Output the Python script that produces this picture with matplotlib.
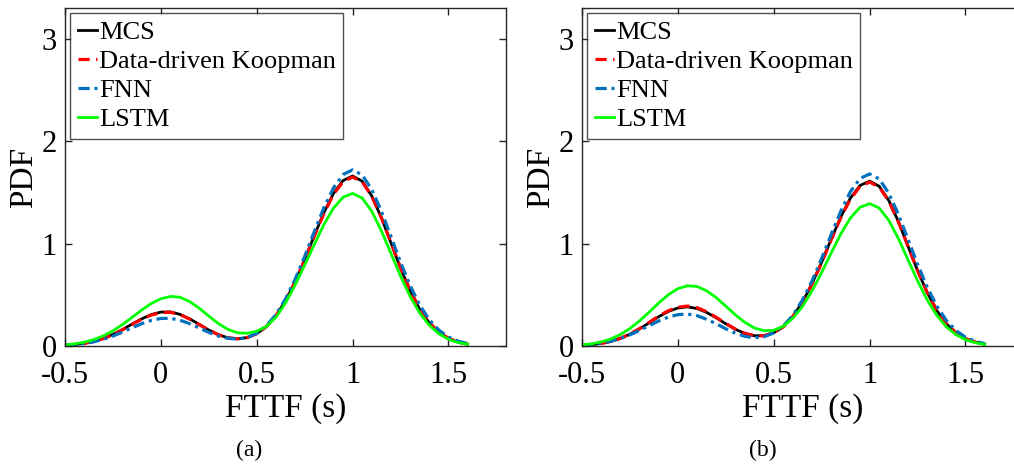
import matplotlib
matplotlib.use("Agg")
import matplotlib.pyplot as plt

plt.rcParams['font.family'] = ['Liberation Serif', 'DejaVu Serif']

# FTTF grid (s), read every 0.05 s from the reference
fttf = [-0.5, -0.45, -0.4, -0.35, -0.3, -0.25, -0.2, -0.15, -0.1, -0.05,
        0.0, 0.05, 0.1, 0.15, 0.2, 0.25, 0.3, 0.35, 0.4, 0.45,
        0.5, 0.55, 0.6, 0.65, 0.7, 0.75, 0.8, 0.85, 0.9, 0.95,
        1.0, 1.05, 1.1, 1.15, 1.2, 1.25, 1.3, 1.35, 1.4, 1.45,
        1.5, 1.55, 1.6]

# panel (a)
mcs_a = [0.007, 0.014, 0.026, 0.045, 0.074, 0.113, 0.161, 0.214, 0.265, 0.307,
         0.331, 0.333, 0.309, 0.265, 0.211, 0.156, 0.110, 0.080, 0.070, 0.082,
         0.120, 0.190, 0.296, 0.441, 0.627, 0.844, 1.077, 1.302, 1.489, 1.615,
         1.660, 1.609, 1.465, 1.253, 1.007, 0.760, 0.539, 0.359, 0.225, 0.132,
         0.073, 0.038, 0.018]
koop_a = [0.007, 0.013, 0.025, 0.044, 0.072, 0.110, 0.158, 0.210, 0.261, 0.302,
          0.326, 0.329, 0.306, 0.263, 0.209, 0.155, 0.110, 0.080, 0.070, 0.082,
          0.120, 0.189, 0.294, 0.438, 0.623, 0.838, 1.070, 1.294, 1.480, 1.604,
          1.650, 1.603, 1.462, 1.253, 1.010, 0.765, 0.544, 0.363, 0.228, 0.135,
          0.075, 0.039, 0.019]
fnn_a = [0.007, 0.013, 0.024, 0.041, 0.065, 0.097, 0.136, 0.178, 0.218, 0.250,
         0.269, 0.270, 0.252, 0.218, 0.176, 0.133, 0.097, 0.074, 0.068, 0.083,
         0.124, 0.197, 0.306, 0.458, 0.650, 0.875, 1.116, 1.349, 1.543, 1.674,
         1.720, 1.670, 1.527, 1.316, 1.069, 0.818, 0.589, 0.400, 0.256, 0.155,
         0.088, 0.047, 0.024]
lstm_a = [0.011, 0.021, 0.037, 0.063, 0.099, 0.149, 0.210, 0.280, 0.351, 0.415,
          0.461, 0.484, 0.476, 0.434, 0.369, 0.292, 0.219, 0.162, 0.129, 0.124,
          0.145, 0.190, 0.280, 0.420, 0.595, 0.790, 0.990, 1.185, 1.345, 1.452,
          1.490, 1.444, 1.315, 1.125, 0.904, 0.682, 0.484, 0.322, 0.202, 0.119,
          0.065, 0.034, 0.017]

# panel (b)
mcs_b = [0.006, 0.013, 0.025, 0.044, 0.074, 0.115, 0.166, 0.226, 0.286, 0.337,
         0.371, 0.382, 0.366, 0.328, 0.275, 0.217, 0.163, 0.122, 0.100, 0.101,
         0.130, 0.191, 0.290, 0.430, 0.610, 0.819, 1.045, 1.262, 1.444, 1.567,
         1.610, 1.560, 1.421, 1.216, 0.976, 0.737, 0.523, 0.348, 0.218, 0.128,
         0.071, 0.037, 0.018]
koop_b = [0.006, 0.013, 0.025, 0.045, 0.075, 0.117, 0.170, 0.231, 0.292, 0.344,
          0.379, 0.390, 0.374, 0.335, 0.280, 0.221, 0.165, 0.123, 0.100, 0.100,
          0.128, 0.188, 0.286, 0.425, 0.605, 0.813, 1.038, 1.254, 1.435, 1.557,
          1.600, 1.552, 1.415, 1.212, 0.975, 0.738, 0.525, 0.350, 0.220, 0.130,
          0.072, 0.038, 0.019]
fnn_b = [0.008, 0.016, 0.028, 0.047, 0.074, 0.109, 0.152, 0.199, 0.244, 0.282,
         0.306, 0.312, 0.296, 0.261, 0.217, 0.168, 0.124, 0.094, 0.081, 0.091,
         0.127, 0.195, 0.300, 0.450, 0.636, 0.855, 1.090, 1.317, 1.507, 1.635,
         1.680, 1.631, 1.492, 1.285, 1.043, 0.799, 0.576, 0.391, 0.250, 0.151,
         0.086, 0.046, 0.023]
lstm_b = [0.011, 0.021, 0.040, 0.069, 0.112, 0.171, 0.245, 0.331, 0.420, 0.500,
          0.560, 0.588, 0.581, 0.539, 0.472, 0.389, 0.304, 0.230, 0.175, 0.149,
          0.153, 0.193, 0.271, 0.386, 0.539, 0.718, 0.910, 1.095, 1.250, 1.354,
          1.390, 1.347, 1.227, 1.049, 0.843, 0.637, 0.451, 0.300, 0.188, 0.111,
          0.061, 0.032, 0.015]

labels = ['MCS', 'Data-driven Koopman', 'FNN', 'LSTM']
xticks = [-0.5, 0, 0.5, 1, 1.5]
xtick_labels = ['-0.5', '0', '0.5', '1', '1.5']
yticks = [0, 1, 2, 3]
captions = ['(a)', '(b)']

fig = plt.figure(figsize=(10.14, 4.66), dpi=100)
ax_a = fig.add_axes([65 / 1014, 120 / 466, 441 / 1014, 338 / 466])
ax_b = fig.add_axes([582 / 1014, 120 / 466, 441 / 1014, 338 / 466])

panels = [(ax_a, mcs_a, koop_a, fnn_a, lstm_a),
          (ax_b, mcs_b, koop_b, fnn_b, lstm_b)]
caption_x = [249 / 1014, 763 / 1014]

for i, (ax, mcs, koop, fnn, lstm) in enumerate(panels):
    ax.plot(fttf, mcs, color='black', lw=2.0, label=labels[0])
    ax.plot(fttf, koop, color='red', lw=2.3, ls=(0, (3.5, 2.0)), label=labels[1])
    ax.plot(fttf, fnn, color='#0072BD', lw=2.3, ls=(0, (3.5, 1.5, 1, 1.5)), label=labels[2])
    ax.plot(fttf, lstm, color='#00FF00', lw=2.0, label=labels[3])

    ax.set_xlim(-0.5, 1.8)
    ax.set_ylim(0, 3.3)
    ax.set_xticks(xticks)
    ax.set_xticklabels(xtick_labels)
    ax.set_yticks(yticks)
    ax.tick_params(direction='in', length=5, width=1, top=True, right=True,
                   labelsize=22, colors='#262626')
    ax.tick_params(axis='x', pad=11)
    ax.tick_params(axis='y', pad=6)
    for t in ax.get_xticklabels() + ax.get_yticklabels():
        t.set_color('black')
    for sp in ax.spines.values():
        sp.set_color('#262626')
        sp.set_linewidth(1)
    ax.set_xlabel('FTTF (s)', fontsize=24, labelpad=2)
    ax.set_ylabel('PDF', fontsize=24, labelpad=2)

    leg = ax.legend(loc='upper left', fontsize=19, frameon=True, fancybox=False,
                    handlelength=0.75, handletextpad=0.05, borderpad=0.28,
                    labelspacing=0.21, borderaxespad=0.2)
    leg.get_frame().set_edgecolor('#262626')
    leg.get_frame().set_linewidth(1)

    fig.text(caption_x[i], 16 / 466, captions[i], fontsize=17,
             ha='center', va='center')

fig.savefig('out.png', dpi=100)
